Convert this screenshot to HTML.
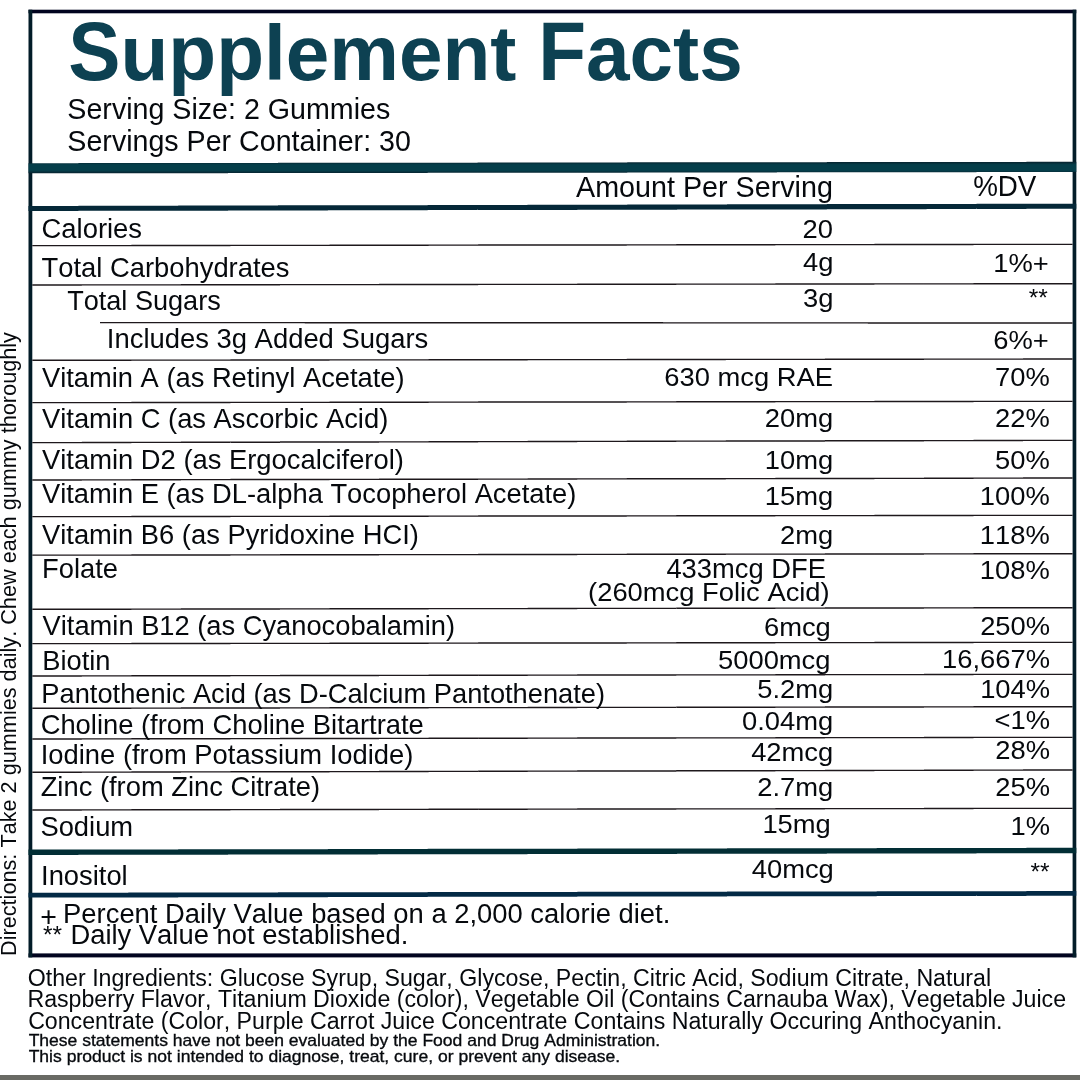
<!DOCTYPE html>
<html lang="en"><head><meta charset="utf-8"><title>Supplement Facts</title>
<style>
html,body{margin:0;padding:0;background:#fff;}
body{width:1080px;height:1080px;position:relative;overflow:hidden;font-family:"Liberation Sans",sans-serif;color:#06090d;}
.t{position:absolute;white-space:pre;line-height:1;font-kerning:none;}
.cap{display:inline-block;transform:scaleY(1.055);transform-origin:0 0.8467em;}
svg{position:absolute;left:0;top:0;}
.wrap{position:absolute;left:0;top:0;width:1080px;height:1080px;will-change:transform;}
.bar{position:absolute;left:-20px;top:1075.1px;width:1120px;height:24.90000000000009px;background:#696a64;}
</style></head><body>
<div class="wrap">
<svg width="1080" height="1080" viewBox="0 0 1080 1080">
<defs><linearGradient id="g1" x1="0" y1="0" x2="0" y2="1"><stop offset="0" stop-color="#07212d"/><stop offset="0.25" stop-color="#053e4a"/><stop offset="0.75" stop-color="#053e4a"/><stop offset="1" stop-color="#07212d"/></linearGradient></defs>
<rect x="28.5" y="9.7" width="1047.80" height="3.60" fill="#01041f"/>
<rect x="28.5" y="953.4" width="1047.80" height="4.00" fill="#01041f"/>
<rect x="28.5" y="9.7" width="3.80" height="947.70" fill="#021c28"/>
<rect x="1072.6" y="9.7" width="3.70" height="947.70" fill="#021c28"/>
<path d="M28.50 163.17h49.90v10.20h-49.90zM78.40 163.10h49.90v10.20h-49.90zM128.29 163.03h49.90v10.20h-49.90zM178.19 162.97h49.90v10.20h-49.90zM228.08 162.90h49.90v10.20h-49.90zM277.98 162.83h49.90v10.20h-49.90zM327.87 162.77h49.90v10.20h-49.90zM377.77 162.70h49.90v10.20h-49.90zM427.66 162.63h49.90v10.20h-49.90zM477.56 162.57h49.90v10.20h-49.90zM527.45 162.50h49.90v10.20h-49.90zM577.35 162.43h49.90v10.20h-49.90zM627.24 162.37h49.90v10.20h-49.90zM677.14 162.30h49.90v10.20h-49.90zM727.03 162.23h49.90v10.20h-49.90zM776.93 162.17h49.90v10.20h-49.90zM826.82 162.10h49.90v10.20h-49.90zM876.72 162.03h49.90v10.20h-49.90zM926.61 161.97h49.90v10.20h-49.90zM976.51 161.90h49.90v10.20h-49.90zM1026.40 161.83h49.90v10.20h-49.90z" fill="url(#g1)"/>
<path d="M28.50 205.94h49.90v5.00h-49.90zM78.40 205.83h49.90v5.01h-49.90zM128.29 205.71h49.90v5.02h-49.90zM178.19 205.60h49.90v5.03h-49.90zM228.08 205.49h49.90v5.04h-49.90zM277.98 205.37h49.90v5.05h-49.90zM327.87 205.26h49.90v5.06h-49.90zM377.77 205.14h49.90v5.07h-49.90zM427.66 205.03h49.90v5.08h-49.90zM477.56 204.91h49.90v5.09h-49.90zM527.45 204.80h49.90v5.10h-49.90zM577.35 204.69h49.90v5.11h-49.90zM627.24 204.57h49.90v5.12h-49.90zM677.14 204.46h49.90v5.13h-49.90zM727.03 204.34h49.90v5.14h-49.90zM776.93 204.23h49.90v5.15h-49.90zM826.82 204.11h49.90v5.16h-49.90zM876.72 204.00h49.90v5.17h-49.90zM926.61 203.89h49.90v5.18h-49.90zM976.51 203.77h49.90v5.19h-49.90zM1026.40 203.66h49.90v5.20h-49.90z" fill="#052838"/>
<path d="M28.50 849.56h49.90v5.40h-49.90zM78.40 849.47h49.90v5.40h-49.90zM128.29 849.39h49.90v5.40h-49.90zM178.19 849.30h49.90v5.40h-49.90zM228.08 849.21h49.90v5.40h-49.90zM277.98 849.13h49.90v5.40h-49.90zM327.87 849.04h49.90v5.40h-49.90zM377.77 848.96h49.90v5.40h-49.90zM427.66 848.87h49.90v5.40h-49.90zM477.56 848.79h49.90v5.40h-49.90zM527.45 848.70h49.90v5.40h-49.90zM577.35 848.61h49.90v5.40h-49.90zM627.24 848.53h49.90v5.40h-49.90zM677.14 848.44h49.90v5.40h-49.90zM727.03 848.36h49.90v5.40h-49.90zM776.93 848.27h49.90v5.40h-49.90zM826.82 848.19h49.90v5.40h-49.90zM876.72 848.10h49.90v5.40h-49.90zM926.61 848.01h49.90v5.40h-49.90zM976.51 847.93h49.90v5.40h-49.90zM1026.40 847.84h49.90v5.40h-49.90z" fill="#022e35"/>
<path d="M28.50 892.76h49.90v4.80h-49.90zM78.40 892.67h49.90v4.80h-49.90zM128.29 892.59h49.90v4.80h-49.90zM178.19 892.50h49.90v4.80h-49.90zM228.08 892.41h49.90v4.80h-49.90zM277.98 892.33h49.90v4.80h-49.90zM327.87 892.24h49.90v4.80h-49.90zM377.77 892.16h49.90v4.80h-49.90zM427.66 892.07h49.90v4.80h-49.90zM477.56 891.99h49.90v4.80h-49.90zM527.45 891.90h49.90v4.80h-49.90zM577.35 891.81h49.90v4.80h-49.90zM627.24 891.73h49.90v4.80h-49.90zM677.14 891.64h49.90v4.80h-49.90zM727.03 891.56h49.90v4.80h-49.90zM776.93 891.47h49.90v4.80h-49.90zM826.82 891.39h49.90v4.80h-49.90zM876.72 891.30h49.90v4.80h-49.90zM926.61 891.21h49.90v4.80h-49.90zM976.51 891.13h49.90v4.80h-49.90zM1026.40 891.04h49.90v4.80h-49.90z" fill="#032a45"/>
<g>
<path d="M32.30 244.97h49.54v1.40h-49.54zM81.84 244.90h49.54v1.40h-49.54zM131.38 244.83h49.54v1.40h-49.54zM180.91 244.77h49.54v1.40h-49.54zM230.45 244.70h49.54v1.40h-49.54zM279.99 244.63h49.54v1.40h-49.54zM329.53 244.57h49.54v1.40h-49.54zM379.07 244.50h49.54v1.40h-49.54zM428.60 244.43h49.54v1.40h-49.54zM478.14 244.37h49.54v1.40h-49.54zM527.68 244.30h49.54v1.40h-49.54zM577.22 244.23h49.54v1.40h-49.54zM626.76 244.17h49.54v1.40h-49.54zM676.30 244.10h49.54v1.40h-49.54zM725.83 244.03h49.54v1.40h-49.54zM775.37 243.97h49.54v1.40h-49.54zM824.91 243.90h49.54v1.40h-49.54zM874.45 243.83h49.54v1.40h-49.54zM923.99 243.77h49.54v1.40h-49.54zM973.52 243.70h49.54v1.40h-49.54zM1023.06 243.63h49.54v1.40h-49.54z" fill="#1e181c"/>
<path d="M32.30 284.27h49.54v1.40h-49.54zM81.84 284.21h49.54v1.40h-49.54zM131.38 284.15h49.54v1.40h-49.54zM180.91 284.08h49.54v1.40h-49.54zM230.45 284.02h49.54v1.40h-49.54zM279.99 283.96h49.54v1.40h-49.54zM329.53 283.90h49.54v1.40h-49.54zM379.07 283.84h49.54v1.40h-49.54zM428.60 283.77h49.54v1.40h-49.54zM478.14 283.71h49.54v1.40h-49.54zM527.68 283.65h49.54v1.40h-49.54zM577.22 283.59h49.54v1.40h-49.54zM626.76 283.53h49.54v1.40h-49.54zM676.30 283.46h49.54v1.40h-49.54zM725.83 283.40h49.54v1.40h-49.54zM775.37 283.34h49.54v1.40h-49.54zM824.91 283.28h49.54v1.40h-49.54zM874.45 283.22h49.54v1.40h-49.54zM923.99 283.15h49.54v1.40h-49.54zM973.52 283.09h49.54v1.40h-49.54zM1023.06 283.03h49.54v1.40h-49.54z" fill="#1e181c"/>
<path d="M100.00 321.91h51.19v1.40h-51.19zM151.19 321.93h51.19v1.40h-51.19zM202.38 321.95h51.19v1.40h-51.19zM253.57 321.97h51.19v1.40h-51.19zM304.76 321.99h51.19v1.40h-51.19zM355.95 322.02h51.19v1.40h-51.19zM407.14 322.04h51.19v1.40h-51.19zM458.33 322.06h51.19v1.40h-51.19zM509.52 322.08h51.19v1.40h-51.19zM560.71 322.10h51.19v1.40h-51.19zM611.89 322.12h51.19v1.40h-51.19zM663.08 322.14h51.19v1.40h-51.19zM714.27 322.16h51.19v1.40h-51.19zM765.46 322.18h51.19v1.40h-51.19zM816.65 322.21h51.19v1.40h-51.19zM867.84 322.23h51.19v1.40h-51.19zM919.03 322.25h51.19v1.40h-51.19zM970.22 322.27h51.19v1.40h-51.19zM1021.41 322.29h51.19v1.40h-51.19z" fill="#1e181c"/>
<path d="M32.30 359.57h49.54v1.40h-49.54zM81.84 359.51h49.54v1.40h-49.54zM131.38 359.45h49.54v1.40h-49.54zM180.91 359.38h49.54v1.40h-49.54zM230.45 359.32h49.54v1.40h-49.54zM279.99 359.26h49.54v1.40h-49.54zM329.53 359.20h49.54v1.40h-49.54zM379.07 359.14h49.54v1.40h-49.54zM428.60 359.07h49.54v1.40h-49.54zM478.14 359.01h49.54v1.40h-49.54zM527.68 358.95h49.54v1.40h-49.54zM577.22 358.89h49.54v1.40h-49.54zM626.76 358.83h49.54v1.40h-49.54zM676.30 358.76h49.54v1.40h-49.54zM725.83 358.70h49.54v1.40h-49.54zM775.37 358.64h49.54v1.40h-49.54zM824.91 358.58h49.54v1.40h-49.54zM874.45 358.52h49.54v1.40h-49.54zM923.99 358.45h49.54v1.40h-49.54zM973.52 358.39h49.54v1.40h-49.54zM1023.06 358.33h49.54v1.40h-49.54z" fill="#1e181c"/>
<path d="M32.30 401.97h49.54v1.40h-49.54zM81.84 401.90h49.54v1.40h-49.54zM131.38 401.83h49.54v1.40h-49.54zM180.91 401.77h49.54v1.40h-49.54zM230.45 401.70h49.54v1.40h-49.54zM279.99 401.63h49.54v1.40h-49.54zM329.53 401.57h49.54v1.40h-49.54zM379.07 401.50h49.54v1.40h-49.54zM428.60 401.43h49.54v1.40h-49.54zM478.14 401.37h49.54v1.40h-49.54zM527.68 401.30h49.54v1.40h-49.54zM577.22 401.23h49.54v1.40h-49.54zM626.76 401.17h49.54v1.40h-49.54zM676.30 401.10h49.54v1.40h-49.54zM725.83 401.03h49.54v1.40h-49.54zM775.37 400.97h49.54v1.40h-49.54zM824.91 400.90h49.54v1.40h-49.54zM874.45 400.83h49.54v1.40h-49.54zM923.99 400.77h49.54v1.40h-49.54zM973.52 400.70h49.54v1.40h-49.54zM1023.06 400.63h49.54v1.40h-49.54z" fill="#1e181c"/>
<path d="M32.30 441.94h49.54v1.40h-49.54zM81.84 441.83h49.54v1.40h-49.54zM131.38 441.71h49.54v1.40h-49.54zM180.91 441.60h49.54v1.40h-49.54zM230.45 441.49h49.54v1.40h-49.54zM279.99 441.37h49.54v1.40h-49.54zM329.53 441.26h49.54v1.40h-49.54zM379.07 441.14h49.54v1.40h-49.54zM428.60 441.03h49.54v1.40h-49.54zM478.14 440.91h49.54v1.40h-49.54zM527.68 440.80h49.54v1.40h-49.54zM577.22 440.69h49.54v1.40h-49.54zM626.76 440.57h49.54v1.40h-49.54zM676.30 440.46h49.54v1.40h-49.54zM725.83 440.34h49.54v1.40h-49.54zM775.37 440.23h49.54v1.40h-49.54zM824.91 440.11h49.54v1.40h-49.54zM874.45 440.00h49.54v1.40h-49.54zM923.99 439.89h49.54v1.40h-49.54zM973.52 439.77h49.54v1.40h-49.54zM1023.06 439.66h49.54v1.40h-49.54z" fill="#1e181c"/>
<path d="M32.30 479.25h49.54v1.40h-49.54zM81.84 479.16h49.54v1.40h-49.54zM131.38 479.06h49.54v1.40h-49.54zM180.91 478.97h49.54v1.40h-49.54zM230.45 478.87h49.54v1.40h-49.54zM279.99 478.78h49.54v1.40h-49.54zM329.53 478.68h49.54v1.40h-49.54zM379.07 478.59h49.54v1.40h-49.54zM428.60 478.49h49.54v1.40h-49.54zM478.14 478.40h49.54v1.40h-49.54zM527.68 478.30h49.54v1.40h-49.54zM577.22 478.20h49.54v1.40h-49.54zM626.76 478.11h49.54v1.40h-49.54zM676.30 478.01h49.54v1.40h-49.54zM725.83 477.92h49.54v1.40h-49.54zM775.37 477.82h49.54v1.40h-49.54zM824.91 477.73h49.54v1.40h-49.54zM874.45 477.63h49.54v1.40h-49.54zM923.99 477.54h49.54v1.40h-49.54zM973.52 477.44h49.54v1.40h-49.54zM1023.06 477.35h49.54v1.40h-49.54z" fill="#1e181c"/>
<path d="M32.30 515.97h49.54v1.40h-49.54zM81.84 515.90h49.54v1.40h-49.54zM131.38 515.83h49.54v1.40h-49.54zM180.91 515.77h49.54v1.40h-49.54zM230.45 515.70h49.54v1.40h-49.54zM279.99 515.63h49.54v1.40h-49.54zM329.53 515.57h49.54v1.40h-49.54zM379.07 515.50h49.54v1.40h-49.54zM428.60 515.43h49.54v1.40h-49.54zM478.14 515.37h49.54v1.40h-49.54zM527.68 515.30h49.54v1.40h-49.54zM577.22 515.23h49.54v1.40h-49.54zM626.76 515.17h49.54v1.40h-49.54zM676.30 515.10h49.54v1.40h-49.54zM725.83 515.03h49.54v1.40h-49.54zM775.37 514.97h49.54v1.40h-49.54zM824.91 514.90h49.54v1.40h-49.54zM874.45 514.83h49.54v1.40h-49.54zM923.99 514.77h49.54v1.40h-49.54zM973.52 514.70h49.54v1.40h-49.54zM1023.06 514.63h49.54v1.40h-49.54z" fill="#1e181c"/>
<path d="M32.30 554.46h49.54v1.40h-49.54zM81.84 554.39h49.54v1.40h-49.54zM131.38 554.32h49.54v1.40h-49.54zM180.91 554.25h49.54v1.40h-49.54zM230.45 554.18h49.54v1.40h-49.54zM279.99 554.11h49.54v1.40h-49.54zM329.53 554.04h49.54v1.40h-49.54zM379.07 553.96h49.54v1.40h-49.54zM428.60 553.89h49.54v1.40h-49.54zM478.14 553.82h49.54v1.40h-49.54zM527.68 553.75h49.54v1.40h-49.54zM577.22 553.68h49.54v1.40h-49.54zM626.76 553.61h49.54v1.40h-49.54zM676.30 553.54h49.54v1.40h-49.54zM725.83 553.46h49.54v1.40h-49.54zM775.37 553.39h49.54v1.40h-49.54zM824.91 553.32h49.54v1.40h-49.54zM874.45 553.25h49.54v1.40h-49.54zM923.99 553.18h49.54v1.40h-49.54zM973.52 553.11h49.54v1.40h-49.54zM1023.06 553.04h49.54v1.40h-49.54z" fill="#1e181c"/>
<path d="M32.30 608.56h49.54v1.40h-49.54zM81.84 608.49h49.54v1.40h-49.54zM131.38 608.41h49.54v1.40h-49.54zM180.91 608.33h49.54v1.40h-49.54zM230.45 608.26h49.54v1.40h-49.54zM279.99 608.18h49.54v1.40h-49.54zM329.53 608.10h49.54v1.40h-49.54zM379.07 608.03h49.54v1.40h-49.54zM428.60 607.95h49.54v1.40h-49.54zM478.14 607.88h49.54v1.40h-49.54zM527.68 607.80h49.54v1.40h-49.54zM577.22 607.72h49.54v1.40h-49.54zM626.76 607.65h49.54v1.40h-49.54zM676.30 607.57h49.54v1.40h-49.54zM725.83 607.50h49.54v1.40h-49.54zM775.37 607.42h49.54v1.40h-49.54zM824.91 607.34h49.54v1.40h-49.54zM874.45 607.27h49.54v1.40h-49.54zM923.99 607.19h49.54v1.40h-49.54zM973.52 607.11h49.54v1.40h-49.54zM1023.06 607.04h49.54v1.40h-49.54z" fill="#1e181c"/>
<path d="M32.30 642.97h49.54v1.40h-49.54zM81.84 642.90h49.54v1.40h-49.54zM131.38 642.83h49.54v1.40h-49.54zM180.91 642.77h49.54v1.40h-49.54zM230.45 642.70h49.54v1.40h-49.54zM279.99 642.63h49.54v1.40h-49.54zM329.53 642.57h49.54v1.40h-49.54zM379.07 642.50h49.54v1.40h-49.54zM428.60 642.43h49.54v1.40h-49.54zM478.14 642.37h49.54v1.40h-49.54zM527.68 642.30h49.54v1.40h-49.54zM577.22 642.23h49.54v1.40h-49.54zM626.76 642.17h49.54v1.40h-49.54zM676.30 642.10h49.54v1.40h-49.54zM725.83 642.03h49.54v1.40h-49.54zM775.37 641.97h49.54v1.40h-49.54zM824.91 641.90h49.54v1.40h-49.54zM874.45 641.83h49.54v1.40h-49.54zM923.99 641.77h49.54v1.40h-49.54zM973.52 641.70h49.54v1.40h-49.54zM1023.06 641.63h49.54v1.40h-49.54z" fill="#1e181c"/>
<path d="M32.30 675.26h49.54v1.40h-49.54zM81.84 675.18h49.54v1.40h-49.54zM131.38 675.10h49.54v1.40h-49.54zM180.91 675.02h49.54v1.40h-49.54zM230.45 674.94h49.54v1.40h-49.54zM279.99 674.85h49.54v1.40h-49.54zM329.53 674.77h49.54v1.40h-49.54zM379.07 674.69h49.54v1.40h-49.54zM428.60 674.61h49.54v1.40h-49.54zM478.14 674.53h49.54v1.40h-49.54zM527.68 674.45h49.54v1.40h-49.54zM577.22 674.37h49.54v1.40h-49.54zM626.76 674.29h49.54v1.40h-49.54zM676.30 674.21h49.54v1.40h-49.54zM725.83 674.13h49.54v1.40h-49.54zM775.37 674.05h49.54v1.40h-49.54zM824.91 673.96h49.54v1.40h-49.54zM874.45 673.88h49.54v1.40h-49.54zM923.99 673.80h49.54v1.40h-49.54zM973.52 673.72h49.54v1.40h-49.54zM1023.06 673.64h49.54v1.40h-49.54z" fill="#1e181c"/>
<path d="M32.30 707.56h49.54v1.40h-49.54zM81.84 707.49h49.54v1.40h-49.54zM131.38 707.41h49.54v1.40h-49.54zM180.91 707.33h49.54v1.40h-49.54zM230.45 707.26h49.54v1.40h-49.54zM279.99 707.18h49.54v1.40h-49.54zM329.53 707.10h49.54v1.40h-49.54zM379.07 707.03h49.54v1.40h-49.54zM428.60 706.95h49.54v1.40h-49.54zM478.14 706.88h49.54v1.40h-49.54zM527.68 706.80h49.54v1.40h-49.54zM577.22 706.72h49.54v1.40h-49.54zM626.76 706.65h49.54v1.40h-49.54zM676.30 706.57h49.54v1.40h-49.54zM725.83 706.50h49.54v1.40h-49.54zM775.37 706.42h49.54v1.40h-49.54zM824.91 706.34h49.54v1.40h-49.54zM874.45 706.27h49.54v1.40h-49.54zM923.99 706.19h49.54v1.40h-49.54zM973.52 706.11h49.54v1.40h-49.54zM1023.06 706.04h49.54v1.40h-49.54z" fill="#1e181c"/>
<path d="M32.30 738.26h49.54v1.40h-49.54zM81.84 738.18h49.54v1.40h-49.54zM131.38 738.10h49.54v1.40h-49.54zM180.91 738.02h49.54v1.40h-49.54zM230.45 737.94h49.54v1.40h-49.54zM279.99 737.85h49.54v1.40h-49.54zM329.53 737.77h49.54v1.40h-49.54zM379.07 737.69h49.54v1.40h-49.54zM428.60 737.61h49.54v1.40h-49.54zM478.14 737.53h49.54v1.40h-49.54zM527.68 737.45h49.54v1.40h-49.54zM577.22 737.37h49.54v1.40h-49.54zM626.76 737.29h49.54v1.40h-49.54zM676.30 737.21h49.54v1.40h-49.54zM725.83 737.13h49.54v1.40h-49.54zM775.37 737.05h49.54v1.40h-49.54zM824.91 736.96h49.54v1.40h-49.54zM874.45 736.88h49.54v1.40h-49.54zM923.99 736.80h49.54v1.40h-49.54zM973.52 736.72h49.54v1.40h-49.54zM1023.06 736.64h49.54v1.40h-49.54z" fill="#1e181c"/>
<path d="M32.30 771.55h49.54v1.40h-49.54zM81.84 771.44h49.54v1.40h-49.54zM131.38 771.33h49.54v1.40h-49.54zM180.91 771.22h49.54v1.40h-49.54zM230.45 771.11h49.54v1.40h-49.54zM279.99 771.00h49.54v1.40h-49.54zM329.53 770.89h49.54v1.40h-49.54zM379.07 770.78h49.54v1.40h-49.54zM428.60 770.67h49.54v1.40h-49.54zM478.14 770.56h49.54v1.40h-49.54zM527.68 770.45h49.54v1.40h-49.54zM577.22 770.34h49.54v1.40h-49.54zM626.76 770.23h49.54v1.40h-49.54zM676.30 770.12h49.54v1.40h-49.54zM725.83 770.01h49.54v1.40h-49.54zM775.37 769.90h49.54v1.40h-49.54zM824.91 769.79h49.54v1.40h-49.54zM874.45 769.68h49.54v1.40h-49.54zM923.99 769.57h49.54v1.40h-49.54zM973.52 769.46h49.54v1.40h-49.54zM1023.06 769.35h49.54v1.40h-49.54z" fill="#1e181c"/>
<path d="M32.30 809.26h49.54v1.40h-49.54zM81.84 809.18h49.54v1.40h-49.54zM131.38 809.10h49.54v1.40h-49.54zM180.91 809.02h49.54v1.40h-49.54zM230.45 808.94h49.54v1.40h-49.54zM279.99 808.85h49.54v1.40h-49.54zM329.53 808.77h49.54v1.40h-49.54zM379.07 808.69h49.54v1.40h-49.54zM428.60 808.61h49.54v1.40h-49.54zM478.14 808.53h49.54v1.40h-49.54zM527.68 808.45h49.54v1.40h-49.54zM577.22 808.37h49.54v1.40h-49.54zM626.76 808.29h49.54v1.40h-49.54zM676.30 808.21h49.54v1.40h-49.54zM725.83 808.13h49.54v1.40h-49.54zM775.37 808.05h49.54v1.40h-49.54zM824.91 807.96h49.54v1.40h-49.54zM874.45 807.88h49.54v1.40h-49.54zM923.99 807.80h49.54v1.40h-49.54zM973.52 807.72h49.54v1.40h-49.54zM1023.06 807.64h49.54v1.40h-49.54z" fill="#1e181c"/>
</g>
</svg>
<span class="t" style="left:68.23px;top:13.68px;font-size:78.32px;font-weight:700;color:#0d4152;"><span class="cap">S</span>upplement <span class="cap">F</span>acts</span>
<span class="t" style="left:67.35px;top:94.55px;font-size:28.64px;transform:scaleY(1.03);transform-origin:0 24.25px;">Serving Size: 2 Gummies</span>
<span class="t" style="left:67.36px;top:126.66px;font-size:28.62px;transform:scaleY(1.02);transform-origin:0 24.24px;">Servings Per Container: 30</span>
<span class="t" style="left:576.00px;top:172.69px;font-size:28.71px;">Amount Per Serving</span>
<span class="t" style="left:973.17px;top:173.20px;font-size:27.76px;transform:scaleY(1.07);transform-origin:0 23.50px;">%DV</span>
<span class="t" style="left:41.53px;top:215.38px;font-size:27.42px;">Calories</span>
<span class="t" style="left:41.55px;top:254.32px;font-size:27.37px;">Total Carbohydrates</span>
<span class="t" style="left:67.16px;top:287.35px;font-size:27.10px;">Total Sugars</span>
<span class="t" style="left:106.83px;top:325.40px;font-size:27.41px;">Includes 3g Added Sugars</span>
<span class="t" style="left:42.00px;top:364.38px;font-size:27.31px;">Vitamin A (as Retinyl Acetate)</span>
<span class="t" style="left:42.00px;top:405.45px;font-size:27.34px;">Vitamin C (as Ascorbic Acid)</span>
<span class="t" style="left:42.00px;top:445.93px;font-size:27.37px;">Vitamin D2 (as Ergocalciferol)</span>
<span class="t" style="left:42.00px;top:479.87px;font-size:27.32px;">Vitamin E (as DL-alpha Tocopherol Acetate)</span>
<span class="t" style="left:42.00px;top:520.94px;font-size:27.35px;">Vitamin B6 (as Pyridoxine HCI)</span>
<span class="t" style="left:42.01px;top:555.36px;font-size:27.34px;">Folate</span>
<span class="t" style="left:42.60px;top:612.49px;font-size:27.29px;">Vitamin B12 (as Cyanocobalamin)</span>
<span class="t" style="left:42.22px;top:647.18px;font-size:27.31px;">Biotin</span>
<span class="t" style="left:41.32px;top:679.91px;font-size:27.27px;">Pantothenic Acid (as D-Calcium Pantothenate)</span>
<span class="t" style="left:40.63px;top:710.82px;font-size:27.37px;">Choline (from Choline Bitartrate</span>
<span class="t" style="left:40.74px;top:740.83px;font-size:27.37px;">Iodine (from Potassium Iodide)</span>
<span class="t" style="left:40.68px;top:773.15px;font-size:27.34px;">Zinc (from Zinc Citrate)</span>
<span class="t" style="left:40.41px;top:813.44px;font-size:27.35px;">Sodium</span>
<span class="t" style="left:41.04px;top:861.64px;font-size:27.35px;">Inositol</span>
<span class="t" style="left:802.57px;top:215.14px;font-size:27.35px;transform:scaleY(0.94);transform-origin:0 23.16px;">20</span>
<span class="t" style="left:803.11px;top:248.34px;font-size:27.35px;transform:scaleY(0.94);transform-origin:0 23.16px;">4g</span>
<span class="t" style="left:803.11px;top:283.54px;font-size:27.35px;transform:scaleY(0.94);transform-origin:0 23.16px;">3g</span>
<span class="t" style="left:664.28px;top:362.84px;font-size:27.35px;transform:scaleY(0.94);transform-origin:0 23.16px;">630 mcg RAE</span>
<span class="t" style="left:764.82px;top:403.84px;font-size:27.35px;transform:scaleY(0.94);transform-origin:0 23.16px;">20mg</span>
<span class="t" style="left:764.82px;top:445.54px;font-size:27.35px;transform:scaleY(0.94);transform-origin:0 23.16px;">10mg</span>
<span class="t" style="left:764.82px;top:482.14px;font-size:27.35px;transform:scaleY(0.94);transform-origin:0 23.16px;">15mg</span>
<span class="t" style="left:780.03px;top:521.14px;font-size:27.35px;transform:scaleY(0.94);transform-origin:0 23.16px;">2mg</span>
<span class="t" style="left:666.41px;top:554.84px;font-size:27.35px;">433mcg DFE</span>
<span class="t" style="left:588.09px;top:578.34px;font-size:27.35px;transform:scaleY(0.97);transform-origin:0 23.16px;">(260mcg Folic Acid)</span>
<span class="t" style="left:763.96px;top:612.84px;font-size:27.35px;transform:scaleY(0.94);transform-origin:0 23.16px;">6mcg</span>
<span class="t" style="left:718.02px;top:645.54px;font-size:27.35px;transform:scaleY(0.94);transform-origin:0 23.16px;">5000mcg</span>
<span class="t" style="left:757.22px;top:675.14px;font-size:27.35px;transform:scaleY(0.94);transform-origin:0 23.16px;">5.2mg</span>
<span class="t" style="left:742.01px;top:707.14px;font-size:27.35px;transform:scaleY(0.94);transform-origin:0 23.16px;">0.04mg</span>
<span class="t" style="left:751.14px;top:737.84px;font-size:27.35px;transform:scaleY(0.94);transform-origin:0 23.16px;">42mcg</span>
<span class="t" style="left:757.22px;top:772.84px;font-size:27.35px;transform:scaleY(0.94);transform-origin:0 23.16px;">2.7mg</span>
<span class="t" style="left:762.42px;top:810.24px;font-size:27.35px;transform:scaleY(0.94);transform-origin:0 23.16px;">15mg</span>
<span class="t" style="left:751.74px;top:854.54px;font-size:27.35px;transform:scaleY(0.94);transform-origin:0 23.16px;">40mcg</span>
<span class="t" style="left:993.30px;top:248.84px;font-size:27.35px;transform:scaleY(0.94);transform-origin:0 23.16px;">1%+</span>
<span class="t" style="left:993.30px;top:325.54px;font-size:27.35px;transform:scaleY(0.94);transform-origin:0 23.16px;">6%+</span>
<span class="t" style="left:995.05px;top:362.84px;font-size:27.35px;transform:scaleY(0.94);transform-origin:0 23.16px;">70%</span>
<span class="t" style="left:995.05px;top:403.84px;font-size:27.35px;transform:scaleY(0.94);transform-origin:0 23.16px;">22%</span>
<span class="t" style="left:995.05px;top:445.54px;font-size:27.35px;transform:scaleY(0.94);transform-origin:0 23.16px;">50%</span>
<span class="t" style="left:979.85px;top:482.14px;font-size:27.35px;transform:scaleY(0.94);transform-origin:0 23.16px;">100%</span>
<span class="t" style="left:979.85px;top:521.14px;font-size:27.35px;transform:scaleY(0.94);transform-origin:0 23.16px;">118%</span>
<span class="t" style="left:979.85px;top:556.14px;font-size:27.35px;transform:scaleY(0.94);transform-origin:0 23.16px;">108%</span>
<span class="t" style="left:980.15px;top:612.14px;font-size:27.35px;transform:scaleY(0.94);transform-origin:0 23.16px;">250%</span>
<span class="t" style="left:942.12px;top:644.74px;font-size:27.35px;transform:scaleY(0.94);transform-origin:0 23.16px;">16,667%</span>
<span class="t" style="left:980.15px;top:675.14px;font-size:27.35px;transform:scaleY(0.94);transform-origin:0 23.16px;">104%</span>
<span class="t" style="left:994.59px;top:706.14px;font-size:27.35px;transform:scaleY(0.94);transform-origin:0 23.16px;">&lt;1%</span>
<span class="t" style="left:995.35px;top:736.14px;font-size:27.35px;transform:scaleY(0.94);transform-origin:0 23.16px;">28%</span>
<span class="t" style="left:995.35px;top:772.84px;font-size:27.35px;transform:scaleY(0.94);transform-origin:0 23.16px;">25%</span>
<span class="t" style="left:1010.57px;top:812.14px;font-size:27.35px;transform:scaleY(0.94);transform-origin:0 23.16px;">1%</span>
<span class="t" style="left:1028.65px;top:286.46px;font-size:24.50px;">**</span>
<span class="t" style="left:1030.45px;top:860.26px;font-size:24.50px;">**</span>
<span class="t" style="left:40.26px;top:901.87px;font-size:28.50px;">+</span>
<span class="t" style="left:63.11px;top:900.41px;font-size:27.39px;">Percent Daily Value based on a 2,000 calorie diet.</span>
<span class="t" style="left:43.05px;top:923.26px;font-size:24.50px;">**</span>
<span class="t" style="left:70.41px;top:920.81px;font-size:27.39px;">Daily Value not established.</span>
<span class="t" style="left:27.77px;top:966.57px;font-size:23.18px;">Other Ingredients: Glucose Syrup, Sugar, Glycose, Pectin, Citric Acid, Sodium Citrate, Natural</span>
<span class="t" style="left:27.45px;top:988.48px;font-size:23.17px;">Raspberry Flavor, Titanium Dioxide (color), Vegetable Oil (Contains Carnauba Wax), Vegetable Juice</span>
<span class="t" style="left:28.14px;top:1010.19px;font-size:23.17px;">Concentrate (Color, Purple Carrot Juice Concentrate Contains Naturally Occuring Anthocyanin.</span>
<span class="t" style="left:28.65px;top:1031.64px;font-size:17.55px;-webkit-text-stroke:0.35px #06090d;transform:scaleY(0.9);transform-origin:0 14.86px;">These statements have not been evaluated by the Food and Drug Administration.</span>
<span class="t" style="left:28.65px;top:1048.34px;font-size:17.55px;-webkit-text-stroke:0.35px #06090d;transform:scaleY(0.9);transform-origin:0 14.86px;">This product is not intended to diagnose, treat, cure, or prevent any disease.</span>
<span class="t" style="left:16.2px;top:956.2px;font-size:21.68px;transform-origin:0 0;transform:rotate(-90deg) translate(0,-18.36px);font-kerning:none;">Directions: Take 2 gummies daily. Chew each gummy thoroughly</span>
<div class="bar"></div>
</div>
</body></html>
